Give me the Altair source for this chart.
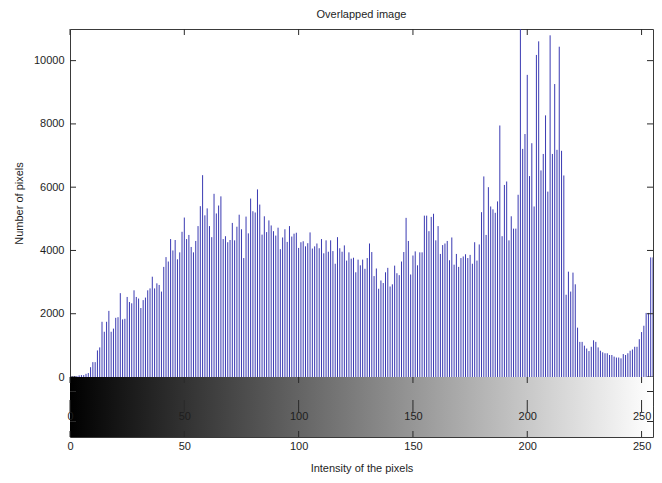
import altair as alt
import pandas as pd

# ---------------- data ----------------
counts = [
    10, 20, 30, 30, 50, 60, 60, 100, 125,
    310, 470, 470, 840, 935, 1745, 1430, 1745, 2090, 1430,
    1530, 1870, 1890, 2650, 1820, 1840, 2530, 2370, 2330, 2740,
    2530, 2480, 2180, 2430, 2510, 2740, 2800, 3170, 2800, 2960,
    2910, 2700, 3480, 3790, 3650, 4360, 4000, 4330, 3720, 3940,
    4590, 5040, 4360, 4490, 4110, 3940, 4300, 4770, 5400, 6380,
    5110, 5330, 4770, 4420, 5790, 5170, 5420, 5710, 4360, 4450,
    4260, 4330, 4870, 4320, 4750, 5130, 4670, 3760, 5070, 4540,
    5640, 5240, 5200, 5930, 5450, 4500, 5080, 4580, 4950, 4790,
    4610, 4470, 4720, 4040, 4410, 4670, 4270, 4770, 4440, 4530,
    4560, 4080, 4260, 4290, 4130, 4230, 4570, 4060, 4130, 4220,
    4070, 4360, 3910, 4320, 3960, 4320, 3980, 3580, 4420, 4070,
    3960, 4160, 3680, 3940, 3740, 3770, 3310, 3710, 3530, 3710,
    3420, 3760, 4220, 3950, 3190, 3430, 2790, 3050, 2970, 3310,
    3450, 2860, 2930, 3520, 3280, 3220, 3650, 3950, 5030, 4300,
    3240, 3840, 3970, 3530, 3940, 3940, 5100, 5100, 4610, 5060,
    5160, 4320, 4770, 3890, 4170, 4220, 4300, 3690, 4410, 3550,
    3890, 3480, 3760, 3810, 3880, 3760, 3860, 3580, 4260, 3680,
    4190, 5210, 6340, 4490, 6000, 5390, 5300, 5190, 5550, 7950,
    4450, 6070, 6180, 4320, 5080, 4690, 4690, 5760, 11500, 7210,
    7680, 9550, 6350, 7390, 5390, 10180, 10610, 6530, 7050, 8270,
    5860, 10800, 7050, 9260, 7180, 10440, 7150, 6370, 2600, 3330,
    2700, 3300, 2930, 1560, 1110, 1110, 990, 900, 820, 955,
    1160, 1110, 935, 830, 780, 750, 750, 695, 695, 645,
    615, 615, 590, 725, 695, 750, 830, 870, 955, 955,
    1195, 1420, 1620, 2025, 2025, 3780, 3780,
]
intensity = list(range(256))
y_ticks = [0, 2000, 4000, 6000, 8000, 10000]
x_ticks = [0, 50, 100, 150, 200, 250]
x_range = [0, 255]
y_range = [0, 11000]
bar_span = [0, 1]  # vertical extent of each colour bar (own unit scale)

# ---------------- layout / style ----------------
W = 583
H_HIST = 348
H_CB1 = 29
H_CB2 = 31
TL = 6  # inward tick length
FONT = "Liberation Sans"
TXT = "#1e1e1e"
TICK = "#2a2a2a"
STEM = "#3a3ab2"

hist_df = pd.DataFrame({"intensity": intensity, "count": counts, "base": [0] * len(counts)})
yt_df = pd.DataFrame({"v": y_ticks})
xt_df = pd.DataFrame({"v": x_ticks})
cb_df = pd.DataFrame({"x0": [x_range[0]], "x1": [x_range[1]],
                      "b0": [bar_span[0]], "b1": [bar_span[1]]})


def xs():
    return alt.Scale(domain=x_range, nice=False, zero=False)


def ys():
    return alt.Scale(domain=y_range, nice=False)


def y_axis():
    return alt.Axis(values=y_ticks, title="Number of pixels", ticks=False, domain=False,
                    grid=False, labelPadding=6, titlePadding=9, format="d")


# ---------------- histogram ----------------
stems = alt.Chart(hist_df).mark_rule(color=STEM, strokeWidth=1, clip=True).encode(
    x=alt.X("intensity:Q", scale=xs(), axis=None),
    y=alt.Y("count:Q", scale=ys(), axis=y_axis(), title="Number of pixels"),
    y2="base:Q",
)
left_ticks = alt.Chart(yt_df).mark_rule(color=TICK).encode(
    y=alt.Y("v:Q", scale=ys(), axis=y_axis(), title="Number of pixels"),
    x=alt.value(0), x2=alt.value(TL))
right_ticks = alt.Chart(yt_df).mark_rule(color=TICK).encode(
    y=alt.Y("v:Q", scale=ys(), axis=y_axis(), title="Number of pixels"),
    x=alt.value(W - TL), x2=alt.value(W))
top_ticks = alt.Chart(xt_df).mark_rule(color=TICK).encode(
    x=alt.X("v:Q", scale=xs(), axis=None), y=alt.value(0), y2=alt.value(TL))

hist = alt.layer(stems, left_ticks, right_ticks, top_ticks).properties(
    width=W, height=H_HIST,
    title=alt.Title("Overlapped image", fontSize=11, font=FONT, fontWeight="normal",
                    color=TXT, offset=8.5, frame="group"),
)

gradient = alt.Gradient(
    gradient="linear",
    stops=[alt.GradientStop(color="#000000", offset=0), alt.GradientStop(color="#ffffff", offset=1)],
    x1=0, x2=1, y1=0, y2=0,
)


def colorbar(h, with_axes):
    rect_axis = None
    if with_axes:
        rect_axis = alt.Axis(values=x_ticks, title="Intensity of the pixels", ticks=False,
                             domain=False, grid=False, labelPadding=3, titlePadding=11,
                             labelFlush=False)
    rect = alt.Chart(cb_df).mark_rect(color=gradient, strokeWidth=0).encode(
        x=alt.X("x0:Q", scale=xs(), axis=rect_axis), x2="x1:Q",
        y=alt.Y("b0:Q", scale=alt.Scale(domain=bar_span, nice=False), axis=None), y2="b1:Q")
    top_axis = None
    if with_axes:
        top_axis = alt.Axis(values=x_ticks, title=None, orient="top", offset=-10, ticks=False,
                            tickSize=0, domain=False, grid=False, labelPadding=0,
                            labelBaseline="middle", labelFlush=False, zindex=1)
    t_top = alt.Chart(xt_df).mark_rule(color=TICK).encode(
        x=alt.X("v:Q", scale=xs(), axis=top_axis), y=alt.value(0), y2=alt.value(TL))
    t_bot = alt.Chart(xt_df).mark_rule(color=TICK).encode(
        x=alt.X("v:Q", scale=xs(), axis=None), y=alt.value(h - TL), y2=alt.value(h))
    t_right = alt.Chart(cb_df).mark_rule(color=TICK).encode(
        x=alt.value(W - TL), x2=alt.value(W), y=alt.value(h / 2))
    t_left = alt.Chart(cb_df).mark_rule(color=TICK).encode(
        x=alt.value(0), x2=alt.value(TL), y=alt.value(h / 2))
    ch = alt.layer(rect, t_top, t_bot, t_right, t_left).properties(width=W, height=h)
    if with_axes:
        ch = ch.resolve_axis(x="independent")
    return ch


cb1 = colorbar(H_CB1, False)
cb2 = colorbar(H_CB2, True)

chart = alt.vconcat(hist, cb1, cb2, spacing=0, bounds="flush").properties(
    padding={"left": 4, "top": 0, "right": 0, "bottom": 0},
).configure_view(
    stroke="#3a3a3a", strokeWidth=1,
).configure_axis(
    labelFont=FONT, titleFont=FONT, labelFontSize=11, titleFontSize=11,
    labelColor=TXT, titleColor=TXT, titleFontWeight="normal",
)

chart.save("out.html", embed_options={"renderer": "svg", "actions": False})
